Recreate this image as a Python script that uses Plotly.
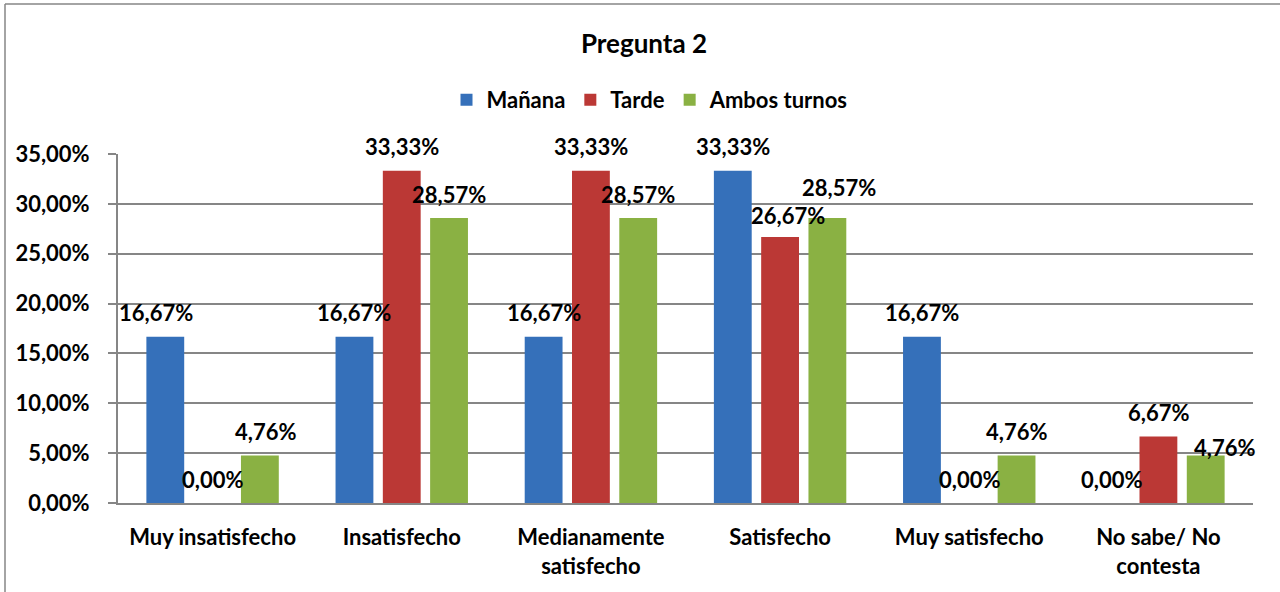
import plotly.graph_objects as go

categories = ["Muy insatisfecho", "Insatisfecho", "Medianamente<br>satisfecho",
              "Satisfecho", "Muy satisfecho", "No sabe/ No<br>contesta"]
manana = [16.67, 16.67, 16.67, 33.33, 16.67, 0.00]
tarde = [0.00, 33.33, 33.33, 26.67, 0.00, 6.67]
ambos = [4.76, 28.57, 28.57, 28.57, 4.76, 4.76]
series_names = ["Mañana", "Tarde", "Ambos turnos"]
tick_vals = [0, 5, 10, 15, 20, 25, 30, 35]

colors = ["#3570BA", "#BB3835", "#8AB143"]
FONT = "Lato"
W, H = 1280, 592
L, R, T, B = 118, 27, 154, 89
BARGAP, GROUPGAP = 0.25, 0.20

# small label nudges (series index, category index) -> (xshift, yshift), like Excel's placement
NUDGE = {(0, 0): (-9, 24), (2, 0): (6, 24), (1, 3): (8, 22), (2, 3): (12, 31), (2, 5): (19, 8)}

def fmt(v):
    return f"{v:.2f}".replace(".", ",") + "%"

fig = go.Figure()
series = [manana, tarde, ambos]
for name, vals, col in zip(series_names, series, colors):
    fig.add_trace(go.Bar(x=list(range(len(categories))), y=vals, name=name,
                         marker=dict(color=col, line=dict(width=0))))

# data labels
slot = (1 - BARGAP) / 3
for i, vals in enumerate(series):
    for j, v in enumerate(vals):
        xs, ys = NUDGE.get((i, j), (0, 24))
        fig.add_annotation(x=j + (i - 1) * slot, y=v, xref="x", yref="y",
                           text=fmt(v),
                           showarrow=False, yanchor="middle", xanchor="center",
                           xshift=xs, yshift=ys,
                           font=dict(family=FONT, size=22, color="black", weight="bold"))

pw, ph = W - L - R, H - T - B
def px(x): return (x - L) / pw
def py(y): return (H - B - y) / ph

# outer chart frame (left and top edges visible)
fig.add_shape(type="line", xref="paper", yref="paper", x0=px(5), x1=px(5),
              y0=py(4), y1=py(620), line=dict(color="#868686", width=1.5))
fig.add_shape(type="line", xref="paper", yref="paper", x0=px(5), x1=px(1300),
              y0=py(4), y1=py(4), line=dict(color="#868686", width=1.5))

fig.update_layout(
    width=W, height=H, autosize=False,
    margin=dict(l=L, r=R, t=T, b=B, autoexpand=False),
    paper_bgcolor="white", plot_bgcolor="white",
    barmode="group", bargap=BARGAP, bargroupgap=GROUPGAP,
    separators=",.",
    font=dict(family=FONT, size=22, color="black", weight="bold"),
    title=dict(text="<b>Pregunta 2</b>", x=644 / W, xref="container", y=1 - 44 / H,
               yref="container", yanchor="middle", xanchor="center",
               font=dict(family=FONT, size=26, color="black")),
    legend=dict(orientation="h", x=px(650), xref="paper", xanchor="center",
                y=py(100), yref="paper", yanchor="middle",
                font=dict(family=FONT, size=22, color="black", weight="bold"),
                itemclick=False, traceorder="normal"),
    showlegend=True,
)
fig.update_xaxes(tickmode="array", tickvals=list(range(len(categories))), ticktext=categories,
                 range=[-0.5, len(categories) - 0.5], tickangle=0,
                 showline=True, linecolor="#868686", linewidth=2,
                 ticks="", showgrid=False, ticklabelstandoff=14,
                 tickfont=dict(family=FONT, size=22, color="black", weight="bold"))
fig.update_yaxes(range=[0, 35], tickmode="array", tickvals=tick_vals,
                 ticktext=[fmt(v) for v in tick_vals],
                 showline=True, linecolor="#868686", linewidth=2,
                 showgrid=True, gridcolor="#868686", gridwidth=2,
                 ticks="outside", ticklen=8, tickcolor="#868686", tickwidth=2,
                 ticklabelstandoff=14, zeroline=False,
                 tickfont=dict(family=FONT, size=22, color="black", weight="bold"))

fig.write_html("out.html", config={"displayModeBar": False},
               post_script="document.body.style.margin='0px';")
